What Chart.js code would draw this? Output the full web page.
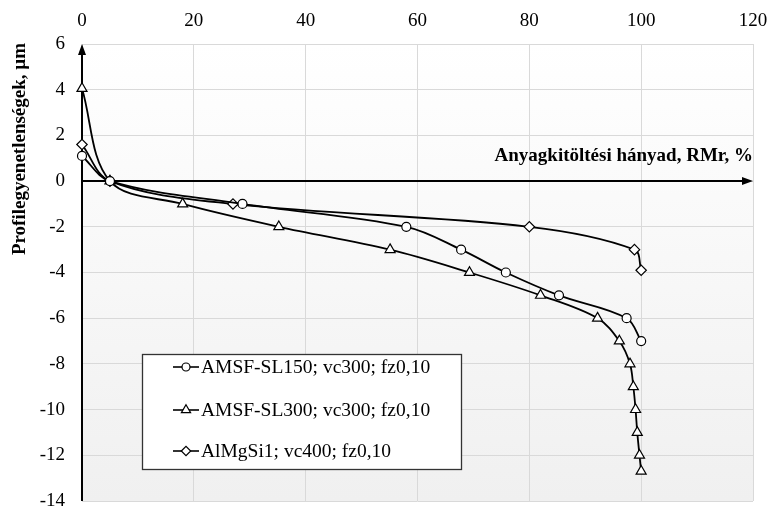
<!DOCTYPE html>
<html>
<head>
<meta charset="utf-8">
<script src="https://cdn.jsdelivr.net/npm/chart.js@4"></script>
<style>
  html, body { margin: 0; padding: 0; background: #fff; }
  #wrap { width: 768px; height: 508px; }
</style>
</head>
<body>
<div id="wrap"><canvas id="chart" width="768" height="508"></canvas></div>
<script>
const seriesLabels = [
  'AMSF-SL150; vc300; fz0,10',
  'AMSF-SL300; vc300; fz0,10',
  'AlMgSi1; vc400; fz0,10'
]
const seriesMarkers = ['circle', 'triangle', 'rectRot']
const markerSizes = [4.5, 5.8, 5.2]

// RMr (%) and profile height (µm) pairs for each curve
const sl150X = [0, 5, 28.7, 58, 67.8, 75.8, 85.3, 97.4, 100]
const sl150Y = [1.1, 0, -1, -2, -3, -4, -5, -6, -7]
const sl300X = [0, 5, 18, 35.2, 55.1, 69.3, 82, 92.2, 96.1, 98, 98.6, 99, 99.3, 99.7, 100]
const sl300Y = [4.05, 0, -1, -2, -3, -4, -5, -6, -7, -8, -9, -10, -11, -12, -12.7]
const almgX = [0, 5, 27, 80, 98.8, 100]
const almgY = [1.6, 0, -1, -2, -3, -3.9]

const xTitle = 'Anyagkitöltési hányad, RMr, %'
const yTitle = 'Profilegyenetlenségek, µm'

const serif = '"Liberation Serif", "Times New Roman", serif'

const toPoints = (xs, ys) => xs.map((x, i) => ({ x: x, y: ys[i] }))
const seriesData = [
  toPoints(sl150X, sl150Y),
  toPoints(sl300X, sl300Y),
  toPoints(almgX, almgY)
]

function arrow(ctx, x0, y0, x1, y1) {
  const ang = Math.atan2(y1 - y0, x1 - x0)
  const len = 11
  const half = 4
  ctx.beginPath()
  ctx.moveTo(x0, y0)
  ctx.lineTo(x1 - Math.cos(ang) * len, y1 - Math.sin(ang) * len)
  ctx.stroke()
  ctx.beginPath()
  ctx.moveTo(x1, y1)
  ctx.lineTo(x1 - Math.cos(ang) * len - Math.sin(ang) * half, y1 - Math.sin(ang) * len + Math.cos(ang) * half)
  ctx.lineTo(x1 - Math.cos(ang) * len + Math.sin(ang) * half, y1 - Math.sin(ang) * len - Math.cos(ang) * half)
  ctx.closePath()
  ctx.fill()
}

// plot background, dark axes with arrows, titles
const decorations = {
  id: 'decorations',
  beforeDraw(chart) {
    const { ctx, chartArea: a } = chart
    const g = ctx.createLinearGradient(0, a.top, 0, a.bottom)
    g.addColorStop(0, '#ffffff')
    g.addColorStop(1, '#f0f0f0')
    ctx.save()
    ctx.fillStyle = g
    ctx.fillRect(a.left, a.top, a.right - a.left, a.bottom - a.top)
    ctx.restore()
  },
  beforeDatasetsDraw(chart) {
    const { ctx, scales: { x, y } } = chart
    const x0 = x.getPixelForValue(0)
    const y0 = y.getPixelForValue(0)
    ctx.save()
    ctx.strokeStyle = '#000'
    ctx.fillStyle = '#000'
    ctx.lineWidth = 2
    arrow(ctx, x0, y.getPixelForValue(-14), x0, y.getPixelForValue(6))
    arrow(ctx, x0, y0, x.getPixelForValue(120), y0)

    ctx.font = 'bold 19px ' + serif
    ctx.textAlign = 'right'
    ctx.textBaseline = 'alphabetic'
    ctx.fillText(xTitle, x.getPixelForValue(120), y0 - 20)

    ctx.translate(20, 149)
    ctx.rotate(-Math.PI / 2)
    ctx.textAlign = 'center'
    ctx.textBaseline = 'middle'
    ctx.fillText(yTitle, 0, 0)
    ctx.restore()
  }
}

// boxed legend in the lower left of the plot
const boxLegend = {
  id: 'boxLegend',
  afterDatasetsDraw(chart) {
    const { ctx } = chart
    const left = 142, top = 354, w = 319, h = 115
    const rows = [367, 410, 451]
    ctx.save()
    ctx.fillStyle = '#fff'
    ctx.fillRect(left, top, w, h)
    ctx.strokeStyle = '#333'
    ctx.lineWidth = 1.3
    ctx.strokeRect(left + 0.5, top + 0.5, w, h)
    ctx.font = '19.5px ' + serif
    ctx.textBaseline = 'middle'
    ctx.textAlign = 'left'
    rows.forEach((ry, i) => {
      ctx.strokeStyle = '#000'
      ctx.lineWidth = 1.6
      ctx.beginPath()
      ctx.moveTo(173, ry)
      ctx.lineTo(199, ry)
      ctx.stroke()
      ctx.fillStyle = '#fff'
      ctx.lineWidth = 1.2
      Chart.helpers.drawPoint(ctx, { pointStyle: seriesMarkers[i], radius: markerSizes[i] - 0.5, borderWidth: 1.2 }, 186, ry)
      ctx.fillStyle = '#000'
      ctx.fillText(seriesLabels[i], 201, ry + 1)
    })
    ctx.restore()
  }
}

// keep the plot edges fixed instead of padding for overhanging tick labels
const noOverhang = (s) => {
  s.paddingTop = 0
  s.paddingBottom = 0
  s.paddingLeft = 0
  s.paddingRight = 0
}

new Chart(document.getElementById('chart').getContext('2d'), {
  type: 'scatter',
  data: {
    datasets: seriesData.map((pts, i) => ({
      label: seriesLabels[i],
      data: pts,
      showLine: true,
      tension: 0.35,
      clip: 8,
      borderColor: '#000',
      borderWidth: 1.8,
      pointStyle: seriesMarkers[i],
      pointRadius: markerSizes[i],
      pointBorderWidth: 1.2,
      pointBackgroundColor: '#fff',
      pointBorderColor: '#000'
    }))
  },
  options: {
    responsive: false,
    animation: false,
    devicePixelRatio: 1,
    layout: { padding: { left: 0, right: 15, top: 2, bottom: 5 } },
    plugins: {
      legend: { display: false },
      tooltip: { enabled: false }
    },
    scales: {
      x: {
        type: 'linear',
        position: 'top',
        min: 0,
        max: 120,
        ticks: { stepSize: 20, color: '#000', font: { family: serif, size: 19 }, padding: 12 },
        grid: { color: '#d9d9d9', drawTicks: false },
        border: { display: false },
        afterFit: (s) => { s.height = 42; noOverhang(s) }
      },
      y: {
        min: -14,
        max: 6,
        ticks: {
          stepSize: 2,
          color: '#000',
          font: { family: serif, size: 19 },
          padding: 17,
          callback: (v) => String(v)
        },
        grid: { color: '#d9d9d9', drawTicks: false },
        border: { display: false },
        afterFit: (s) => { s.width = 82; noOverhang(s) }
      }
    }
  },
  plugins: [decorations, boxLegend]
})
</script>
</body>
</html>
